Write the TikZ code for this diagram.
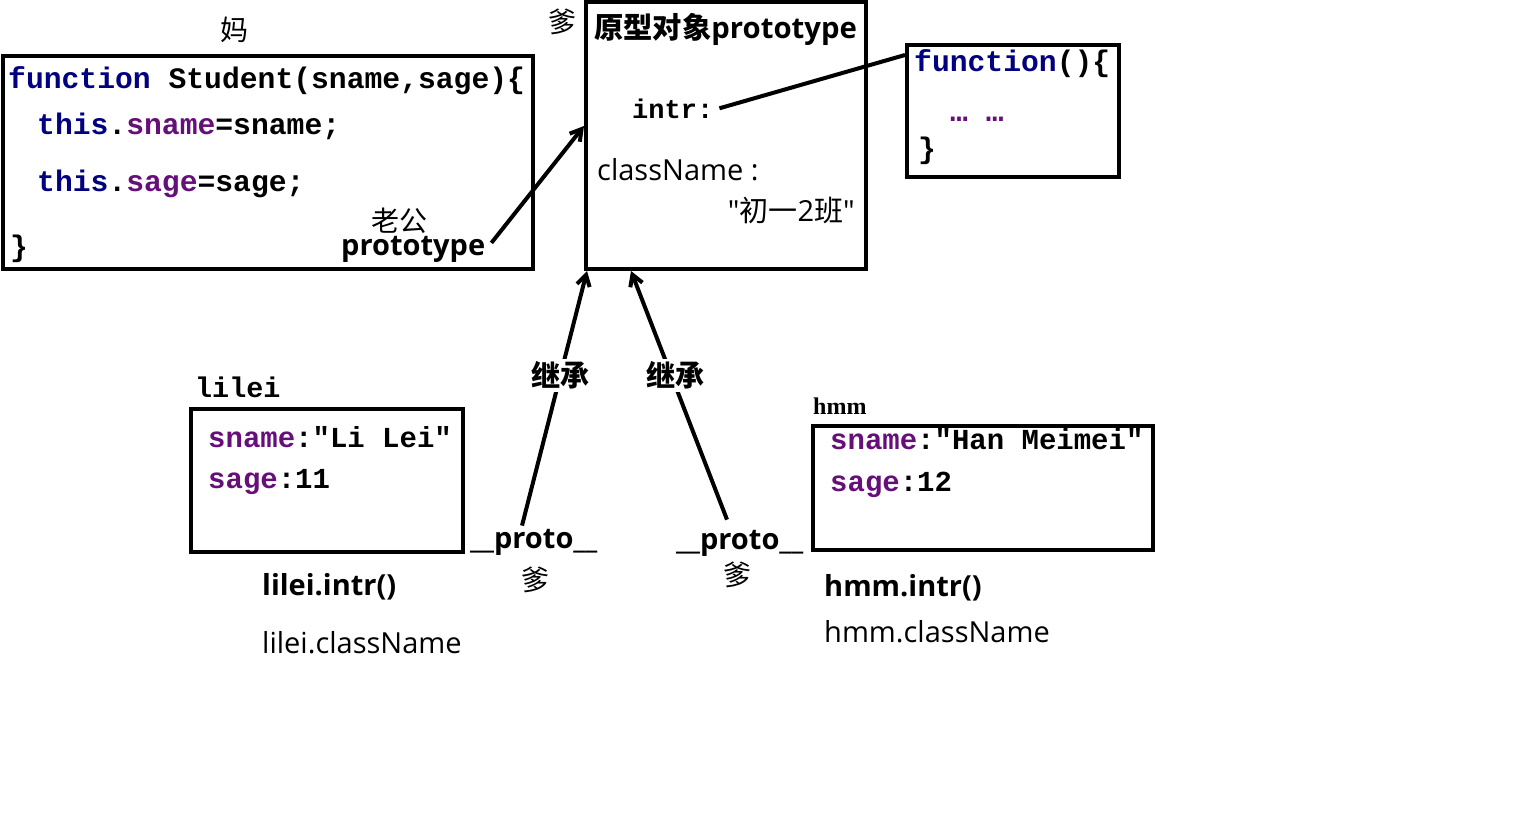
\documentclass[tikz,border=0pt]{standalone}
\usepackage{fontspec}
\setmainfont{Open Sans}
\setmonofont{Liberation Mono}
\newfontfamily\cjk{Noto Sans CJK SC}
\newfontfamily\tms{Liberation Serif}
\usetikzlibrary{arrows.meta}
\definecolor{kw}{RGB}{0,0,128}
\definecolor{fld}{RGB}{102,14,122}
\tikzset{
  box/.style={draw,line width=4pt,inner sep=0pt},
  txt/.style={inner sep=0pt,anchor=base west},
  codeA/.style={txt,font=\ttfamily\bfseries\fontsize{29.7}{30}\selectfont},
  codeB/.style={txt,font=\ttfamily\bfseries\fontsize{29}{29}\selectfont},
  codeC/.style={txt,font=\ttfamily\bfseries\fontsize{27}{27}\selectfont},
  cn/.style={inner sep=0pt,font=\cjk\fontsize{28}{28}\selectfont},
  cnb/.style={inner sep=0pt,font=\cjk\bfseries\fontsize{29}{29}\selectfont},
  ui/.style={txt,font=\fontsize{29}{29}\selectfont},
  uib/.style={txt,font=\bfseries\fontsize{29}{29}\selectfont},
  link/.style={line width=4pt},
  arr/.style={link,-{Straight Barb[length=11pt,width=13pt]}},
}
\begin{document}
\begin{tikzpicture}[x=1pt,y=-1pt]
\useasboundingbox[fill=white] (0,0) rectangle (1526,822);
% boxes
\node[box,minimum width=530pt,minimum height=213pt] (mom) at (268,162.5) {};
\node[box,minimum width=280pt,minimum height=267pt] (proto) at (726,135.5) {};
\node[box,minimum width=212pt,minimum height=132pt] (fn) at (1013,111) {};
\node[box,minimum width=272pt,minimum height=143pt] (li) at (327,480.5) {};
\node[box,minimum width=340pt,minimum height=124pt] (hm) at (983,488) {};
% mother box
\node[cn] (ma) at (234,30) {妈};
\node[codeA] (f1) at (8,88) {\textcolor{kw}{function} Student(sname,sage)\{};
\node[codeA] (f2) at (37,134) {\textcolor{kw}{this}.\textcolor{fld}{sname}=sname;};
\node[codeA] (f3) at (37,191) {\textcolor{kw}{this}.\textcolor{fld}{sage}=sage;};
\node[codeA] (f4) at (10,256) {\}};
\node[cn] (lg) at (399,221) {老公};
\node[uib] (ptl) at (341,255) {prototype};
% prototype box
\node[cn] (die0) at (562,22) {爹};
\node[txt,font=\bfseries\fontsize{29.3}{29}\selectfont] (pt) at (594,38) {{\cjk\bfseries 原型对象}prototype};
\node[codeC] (intr) at (632,118) {intr:};
\node[ui] (cls) at (597,180) {className :};
\node[txt,anchor=base east,font=\fontsize{29}{29}\selectfont\addfontfeatures{Ligatures=TeXOff}] (cv) at (855,221) {"{\cjk 初一}2{\cjk 班}"};
% function box
\node[codeA] (g1) at (914,71) {\textcolor{kw}{function}()\{};
\node[codeA,text=fld] (g2) at (950,121) {\char"2026\ \char"2026};
\node[codeA] (g3) at (918,158) {\}};
% instances
\node[txt,font=\ttfamily\bfseries\fontsize{28.4}{28}\selectfont] (lil) at (195,397) {lilei};
\node[codeB] (l1) at (208,447) {\textcolor{fld}{sname}:"Li Lei"};
\node[codeB] (l2) at (208,488) {\textcolor{fld}{sage}:11};
\node[uib] (li1) at (262,595) {lilei.intr()};
\node[ui] (li2) at (262,653) {lilei.className};
\node[txt,font=\tms\bfseries\fontsize{24}{24}\selectfont] (hml) at (813,414) {hmm};
\node[codeB] (h1) at (830,449) {\textcolor{fld}{sname}:"Han Meimei"};
\node[codeB] (h2) at (830,491) {\textcolor{fld}{sage}:12};
\node[uib] (hm1) at (824,596) {hmm.intr()};
\node[ui] (hm2) at (824,642) {hmm.className};
% __proto__ labels
\node[uib] (p1) at (470,548) {\_\_proto\_\_};
\node[cn] (d1) at (535,580) {爹};
\node[uib] (p2) at (676,549) {\_\_proto\_\_};
\node[cn] (d2) at (737,575) {爹};
% connectors
\draw[arr] ([xshift=6pt,yshift=6pt]ptl.east) -- ([yshift=9.5pt]proto.west);
\draw[link] ([xshift=6pt]intr.east) -- ([yshift=-12pt]fn.north west);
\draw[arr] ([xshift=52pt,yshift=3pt]p1.north west) -- node[cnb,fill=white,pos=0.59,inner sep=3pt] (j1) {继承} ([xshift=3pt]proto.south west);
\draw[arr] ([xshift=51pt,yshift=10pt]p2.north west) -- node[cnb,fill=white,pos=0.58,inner sep=3pt,xshift=4pt] (j2) {继承} ([xshift=47pt]proto.south west);
\end{tikzpicture}
\end{document}
